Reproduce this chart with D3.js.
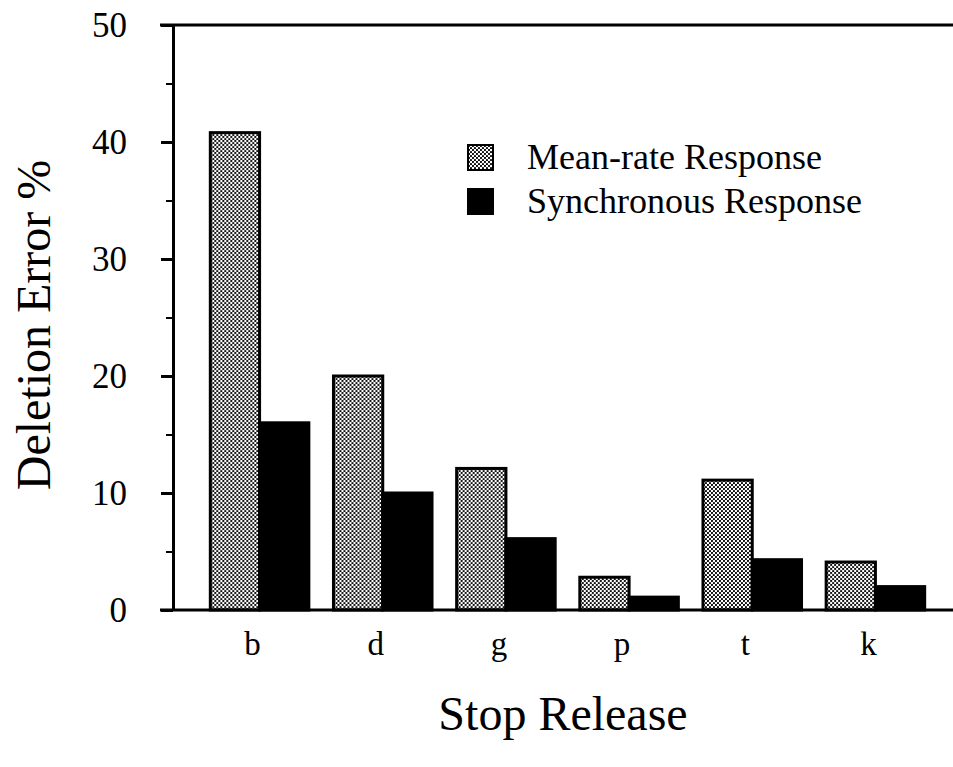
<!DOCTYPE html>
<html>
<head>
<meta charset="utf-8">
<script src="https://cdn.jsdelivr.net/npm/d3@7"></script>
<style>
  body { margin: 0; background: #fff; }
  svg text { font-family: "Liberation Serif", "DejaVu Serif", serif; fill: #000; }
</style>
</head>
<body>
<svg id="viz" width="953" height="767"></svg>
<script>
// datos
var categories = ["b", "d", "g", "p", "t", "k"];
var seriesNames = ["Mean-rate Response", "Synchronous Response"];
var meanRate = [40.8, 20.0, 12.1, 2.8, 11.1, 4.1];
var synchronous = [16.0, 10.0, 6.1, 1.1, 4.3, 2.0];
var majorTicks = [0, 10, 20, 30, 40, 50];
var minorTicks = [5, 15, 25, 35, 45];

var svg = d3.select("#viz"),
    width = +svg.attr("width"),
    height = +svg.attr("height");

// patron punteado de las barras claras
var defs = svg.append("defs");
var pat = defs.append("pattern")
    .attr("id", "dots")
    .attr("width", 4).attr("height", 4)
    .attr("patternUnits", "userSpaceOnUse");
pat.append("rect").attr("width", 4).attr("height", 4).attr("fill", "#fff");
pat.append("circle").attr("cx", 1).attr("cy", 1).attr("r", 1.1).attr("fill", "#000");
pat.append("circle").attr("cx", 3).attr("cy", 3).attr("r", 1.1).attr("fill", "#000");

var axisX = 173, plotTop = 25, plotBottom = 610;

var y = d3.scaleLinear().domain([0, 50]).range([plotBottom, plotTop]);
var x = d3.scaleBand().domain(categories)
    .range([198, 937])
    .paddingInner(0.2)
    .paddingOuter(0.1);
var x1 = d3.scaleBand().domain(seriesNames).range([0, x.bandwidth()]);

var data = categories.map(function(c, i) {
  return { cat: c, values: [meanRate[i], synchronous[i]] };
});

// barras
var groups = svg.append("g").selectAll("g")
    .data(data)
  .enter().append("g")
    .attr("transform", function(d) { return "translate(" + x(d.cat) + ",0)"; });

groups.selectAll("rect")
    .data(function(d) { return d.values.map(function(v, j) { return { key: seriesNames[j], v: v }; }); })
  .enter().append("rect")
    .attr("x", function(d) { return x1(d.key); })
    .attr("y", function(d) { return y(d.v); })
    .attr("width", x1.bandwidth())
    .attr("height", function(d) { return y(0) - y(d.v); })
    .attr("fill", function(d, j) { return j === 0 ? "url(#dots)" : "#000"; })
    .attr("stroke", "#000")
    .attr("stroke-width", 3);

// eje Y: marcas mayores con etiquetas
var yAxis = svg.append("g")
    .attr("transform", "translate(" + axisX + ",0)")
    .call(d3.axisLeft(y).tickValues(majorTicks).tickSize(12).tickPadding(34).tickSizeOuter(0));
yAxis.select(".domain").attr("stroke-width", 3);
yAxis.selectAll(".tick line").attr("stroke-width", 3);
yAxis.selectAll(".tick text")
    .attr("font-size", 35)
    .style("font-family", "Liberation Serif, serif");

// marcas menores
var yMinor = svg.append("g")
    .attr("transform", "translate(" + axisX + ",0)")
    .call(d3.axisLeft(y).tickValues(minorTicks).tickSize(7).tickFormat(""));
yMinor.select(".domain").remove();
yMinor.selectAll(".tick line").attr("stroke-width", 2);

// lineas superior e inferior
svg.append("line")
    .attr("x1", 160).attr("x2", width)
    .attr("y1", y(50)).attr("y2", y(50))
    .attr("stroke", "#000").attr("stroke-width", 3);
svg.append("line")
    .attr("x1", 160).attr("x2", width)
    .attr("y1", y(0)).attr("y2", y(0))
    .attr("stroke", "#000").attr("stroke-width", 3);

// etiquetas de categorias
svg.append("g").selectAll("text")
    .data(categories)
  .enter().append("text")
    .attr("x", function(d) { return x(d) + x.bandwidth() / 2 - 7; })
    .attr("y", 655)
    .attr("text-anchor", "middle")
    .attr("font-size", 33)
    .text(function(d) { return d; });

// titulos de ejes
svg.append("text")
    .attr("x", (axisX + width) / 2)
    .attr("y", 730)
    .attr("text-anchor", "middle")
    .attr("font-size", 48)
    .text("Stop Release");

svg.append("text")
    .attr("transform", "translate(50," + 325 + ") rotate(-90)")
    .attr("text-anchor", "middle")
    .attr("font-size", 48)
    .text("Deletion Error %");

// leyenda
var legend = svg.append("g").selectAll("g")
    .data(seriesNames)
  .enter().append("g")
    .attr("transform", function(d, i) { return "translate(468," + (145 + i * 44) + ")"; });
legend.append("rect")
    .attr("width", 25).attr("height", 25)
    .attr("fill", function(d, i) { return i === 0 ? "url(#dots)" : "#000"; })
    .attr("stroke", "#000").attr("stroke-width", 2);
legend.append("text")
    .attr("x", 59)
    .attr("y", 24)
    .attr("font-size", 36)
    .text(function(d) { return d; });
</script>
</body>
</html>
